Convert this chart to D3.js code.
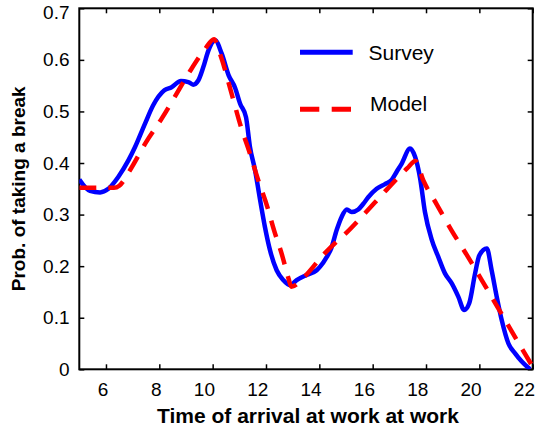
<!DOCTYPE html>
<html>
<head>
<meta charset="utf-8">
<script src="https://cdn.jsdelivr.net/npm/d3@7"></script>
<style>
  html, body { margin: 0; padding: 0; background: #fff; }
  svg { display: block; font-family: "Liberation Sans", Arial, Helvetica, sans-serif; }
</style>
</head>
<body>
<svg id="chart" width="536" height="432"></svg>
<script>
// Survey: observed probability of taking a break vs. arrival time (h)
const surveyTime = [5.0, 5.4, 5.78, 6.09, 6.46, 6.84, 7.09, 7.46, 7.77, 8.19, 8.46, 8.81, 9.09, 9.27, 9.46, 9.65, 9.84, 10.09, 10.34, 10.6, 10.84, 11.03, 11.25, 11.4, 11.59, 11.78, 11.96, 12.15, 12.4, 12.65, 12.9, 13.15, 13.53, 13.9, 14.03, 14.28, 14.45, 14.65, 14.84, 15.03, 15.21, 15.46, 15.65, 15.84, 16.15, 16.46, 16.71, 16.9, 17.09, 17.4, 17.59, 17.78, 17.96, 18.21, 18.46, 18.71, 18.96, 19.21, 19.43, 19.62, 19.84, 20.0, 20.28, 20.46, 20.65, 20.84, 21.09, 21.34, 21.59, 21.9];
const surveyProb = [0.368, 0.346, 0.343, 0.350, 0.373, 0.405, 0.431, 0.476, 0.512, 0.541, 0.547, 0.559, 0.557, 0.552, 0.560, 0.586, 0.618, 0.638, 0.612, 0.570, 0.546, 0.515, 0.489, 0.431, 0.386, 0.328, 0.276, 0.231, 0.192, 0.173, 0.163, 0.173, 0.183, 0.192, 0.199, 0.218, 0.235, 0.270, 0.296, 0.310, 0.305, 0.310, 0.321, 0.334, 0.350, 0.359, 0.367, 0.383, 0.399, 0.428, 0.412, 0.370, 0.305, 0.252, 0.218, 0.186, 0.167, 0.141, 0.115, 0.128, 0.186, 0.221, 0.234, 0.192, 0.141, 0.095, 0.050, 0.031, 0.015, 0.0];

// Model: fitted probability
const modelTime = [5.0, 6.3, 6.5, 6.9, 7.5, 8.1, 8.6, 9.15, 9.7, 10.05, 10.3, 10.75, 11.05, 11.4, 11.7, 12.05, 12.3, 12.6, 12.85, 12.95, 13.45, 14.15, 14.7, 15.0, 15.7, 16.5, 17.3, 17.6, 17.9, 18.4, 18.95, 19.55, 20.1, 20.6, 21.05, 21.55, 22.0];
const modelProb = [0.352, 0.352, 0.356, 0.386, 0.440, 0.487, 0.530, 0.578, 0.620, 0.640, 0.608, 0.527, 0.472, 0.418, 0.368, 0.315, 0.270, 0.222, 0.175, 0.160, 0.180, 0.222, 0.250, 0.264, 0.302, 0.347, 0.390, 0.404, 0.366, 0.320, 0.270, 0.220, 0.172, 0.128, 0.088, 0.044, 0.005];

const xTicks = [6, 8, 10, 12, 14, 16, 18, 20, 22];
const yTicks = [0, 0.1, 0.2, 0.3, 0.4, 0.5, 0.6, 0.7];
const seriesNames = ["Survey", "Model"];
const seriesColors = ["#0000ff", "#ff0000"];
const xTitle = "Time of arrival at work at work";
const yTitle = "Prob. of taking a break";

const svg = d3.select("#chart");
const plot = { left: 79.3, right: 532.7, top: 8.3, bottom: 369.3 };

const x = d3.scaleLinear().domain([5, 22]).range([plot.left, plot.right]);
const y = d3.scaleLinear().domain([0, 0.7]).range([plot.bottom, plot.top]);

svg.append("defs").append("clipPath").attr("id", "plotClip")
  .append("rect")
  .attr("x", plot.left).attr("y", plot.top - 4)
  .attr("width", plot.right - plot.left + 4)
  .attr("height", plot.bottom - plot.top + 4);

// Inward ticks on all four sides
const tickFont = 19;
const bottomAxis = svg.append("g")
  .attr("transform", `translate(0,${plot.bottom})`)
  .call(d3.axisBottom(x).tickValues(xTicks).tickSizeInner(-5).tickSizeOuter(0).tickPadding(13.7).tickFormat(d3.format("d")));
bottomAxis.selectAll("text")
  .attr("text-anchor", "end")
  .attr("dx", 1.8)
  .attr("font-size", tickFont)
  .attr("font-family", "Liberation Sans, Arial, sans-serif")
  .attr("fill", "#000");

const leftAxis = svg.append("g")
  .attr("transform", `translate(${plot.left},0)`)
  .call(d3.axisLeft(y).tickValues(yTicks).tickSizeInner(-5).tickSizeOuter(0).tickPadding(9.8).tickFormat(d => d === 0 ? "0" : d3.format(".1f")(d)));
leftAxis.selectAll("text")
  .attr("font-size", tickFont)
  .attr("font-family", "Liberation Sans, Arial, sans-serif")
  .attr("fill", "#000")
  // keep the topmost label clear of the page edge
  .attr("dy", d => d === 0.7 ? "0.56em" : "0.32em");

svg.append("g")
  .attr("transform", `translate(0,${plot.top})`)
  .call(d3.axisTop(x).tickValues(xTicks).tickSizeInner(-5).tickSizeOuter(0).tickFormat(""));
svg.append("g")
  .attr("transform", `translate(${plot.right},0)`)
  .call(d3.axisRight(y).tickValues(yTicks).tickSizeInner(-5).tickSizeOuter(0).tickFormat(""));

svg.selectAll(".domain").remove();
svg.selectAll(".tick line").attr("stroke", "#000").attr("stroke-width", 1.5);

// Frame
svg.append("rect")
  .attr("x", plot.left).attr("y", plot.top)
  .attr("width", plot.right - plot.left)
  .attr("height", plot.bottom - plot.top)
  .attr("fill", "none").attr("stroke", "#000").attr("stroke-width", 2);

// Curves
const line = d3.line()
  .x(d => x(d[0]))
  .y(d => y(d[1]))
  .curve(d3.curveMonotoneX);

const survey = surveyTime.map((t, i) => [t, surveyProb[i]]);
const model = modelTime.map((t, i) => [t, modelProb[i]]);

const curves = svg.append("g").attr("clip-path", "url(#plotClip)");
curves.append("path")
  .attr("d", line(survey))
  .attr("fill", "none")
  .attr("stroke", seriesColors[0])
  .attr("stroke-width", 4.5)
  .attr("stroke-linejoin", "round");
curves.append("path")
  .attr("d", line(model))
  .attr("fill", "none")
  .attr("stroke", seriesColors[1])
  .attr("stroke-width", 4.5)
  .attr("stroke-dasharray", "17,12");

// Legend
const legend = svg.append("g");
const legendRows = [
  { y: 52.3, ty: 59.5, dash: null },
  { y: 109.2, ty: 110.7, dash: "19.3,12.4" }
];
seriesNames.forEach((name, i) => {
  legend.append("line")
    .attr("x1", 300).attr("x2", 352.7)
    .attr("y1", legendRows[i].y).attr("y2", legendRows[i].y)
    .attr("stroke", seriesColors[i])
    .attr("stroke-width", 5)
    .attr("stroke-dasharray", legendRows[i].dash);
  legend.append("text")
    .attr("x", 368.5 + i * 1.5).attr("y", legendRows[i].ty)
    .attr("font-size", 21)
    .attr("fill", "#000")
    .text(name);
});

// Axis titles
svg.append("text")
  .attr("x", (plot.left + plot.right) / 2 + 2)
  .attr("y", 423)
  .attr("text-anchor", "middle")
  .attr("font-size", 21)
  .attr("font-weight", "bold")
  .attr("fill", "#000")
  .text(xTitle);

svg.append("text")
  .attr("transform", `translate(25,${(plot.top + plot.bottom) / 2}) rotate(-90)`)
  .attr("text-anchor", "middle")
  .attr("font-size", 19)
  .attr("font-weight", "bold")
  .attr("fill", "#000")
  .text(yTitle);
</script>
</body>
</html>
